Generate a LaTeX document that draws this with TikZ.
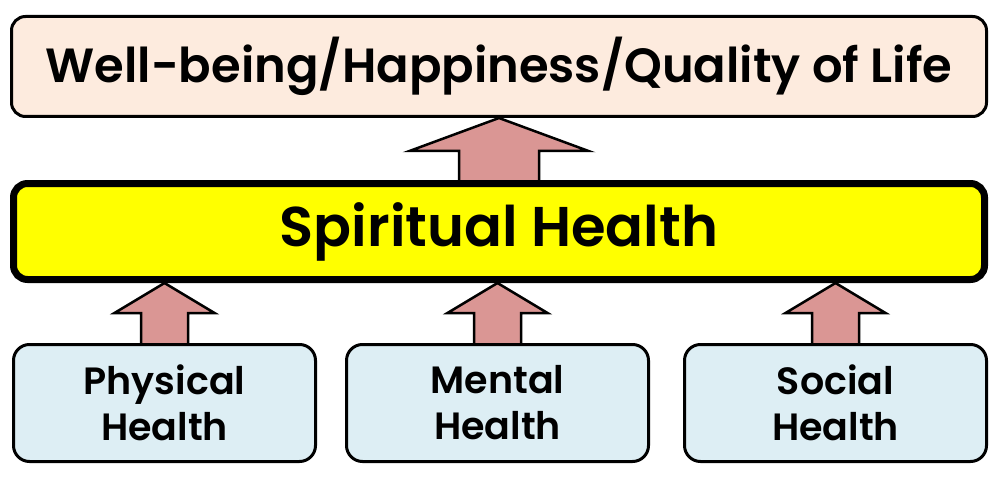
\documentclass[tikz,border=0pt]{standalone}
\usepackage{fontspec}
\setmainfont{Poppins}[BoldFont={Poppins SemiBold}]
\usetikzlibrary{calc,backgrounds}
\definecolor{Ink}{HTML}{000000}
\definecolor{PeachFill}{HTML}{FDEBDE}
\definecolor{SpiritYellow}{HTML}{FFFF00}
\definecolor{IceFill}{HTML}{DDEEF4}
\definecolor{ArrowRose}{HTML}{DA9694}
\tikzset{
  goal/.style={rectangle,draw=Ink,fill=PeachFill,rounded corners=14pt,line width=3pt,minimum width=975pt,minimum height=100pt,inner sep=0pt,font=\fontsize{48}{56}\selectfont\bfseries},
  core/.style={rectangle,draw=Ink,fill=SpiritYellow,rounded corners=14pt,line width=7pt,minimum width=971pt,minimum height=96pt,inner sep=0pt,font=\fontsize{56}{64}\selectfont\bfseries},
  base/.style={rectangle,draw=Ink,fill=IceFill,rounded corners=16pt,line width=3pt,minimum width=302pt,minimum height=117pt,inner sep=0pt,align=center,font=\fontsize{38}{46}\selectfont\bfseries},
  blk/.style={draw=Ink,fill=ArrowRose,line width=2.5pt,line join=miter},
}
% from, to, shaft half width, head half width, head height
\newcommand{\blockarrow}[5]{%
  \draw[blk] ($(#1.north)+(-#3,0)$) -- ($(#1.north |- #2.south)+(-#3,-#5)$)
    -- ($(#1.north |- #2.south)+(-#4,-#5)$) -- (#1.north |- #2.south)
    -- ($(#1.north |- #2.south)+(#4,-#5)$) -- ($(#1.north |- #2.south)+(#3,-#5)$)
    -- ($(#1.north)+(#3,0)$);}
\begin{document}
\begin{tikzpicture}[x=1pt,y=1pt]
\useasboundingbox (0,0) rectangle (1000,480);
% boxes
\node[goal] (life) at (499,413.5) {Well-being/Happiness/Quality of Life};
\node[core] (spirit) at (499,248.5) {Spiritual Health};
\node[base] (phys) at (164.5,77) {Physical\\Health};
\node[base] (ment) at (497.5,77) {Mental\\Health};
\node[base] (soc) at (835.5,77) {Social\\Health};
% arrows
\begin{scope}[on background layer]
\blockarrow{spirit}{life}{40}{89.5}{33}
\blockarrow{phys}{spirit}{23.5}{50}{30}
\blockarrow{ment}{spirit}{23.5}{50}{30}
\blockarrow{soc}{spirit}{23.5}{50}{30}
\end{scope}
\end{tikzpicture}
\end{document}
